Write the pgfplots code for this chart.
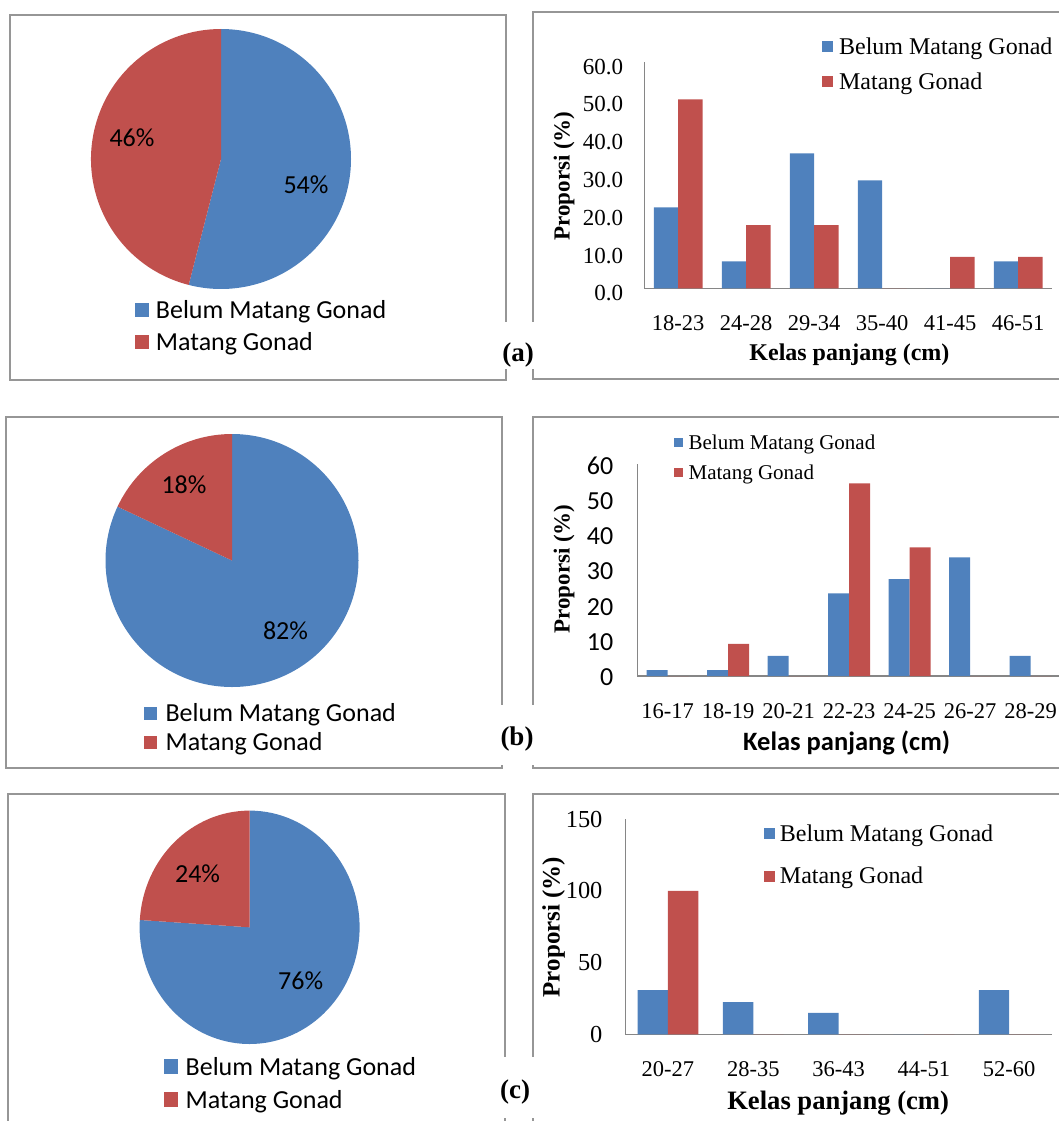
\documentclass[border=0pt]{standalone}
\usepackage{fontspec}
\setmainfont{Liberation Serif}
\newfontfamily\calibri{Carlito}
\usepackage{pgfplots}
\pgfplotsset{compat=1.18}

\definecolor{xlblue}{RGB}{79,129,189}
\definecolor{xlred}{RGB}{192,80,77}
\definecolor{framegray}{RGB}{150,150,150}
\definecolor{axgray}{RGB}{134,134,134}
\newcommand\fs[1]{\fontsize{#1}{#1}\selectfont}

% pie: #1 = share of "Belum Matang Gonad" in percent, #2/#3 = radii (pt)
% slices start at 12 o'clock and run clockwise, as in Excel
\newcommand\pieslices[3]{%
  \fill[xlblue] (0,0) -- (0,1) arc[start angle=90, end angle={90-3.6*#1}, x radius=#2pt, y radius=#3pt] -- cycle;
  \fill[xlred] (0,0) -- ({cos(90-3.6*#1)},{sin(90-3.6*#1)}) arc[start angle={90-3.6*#1}, end angle=-270, x radius=#2pt, y radius=#3pt] -- cycle;
}

\pgfplotsset{
  pieax/.style={hide axis, scale only axis, anchor=center, clip=false,
    xmin=-1, xmax=1, ymin=-1, ymax=1,
    legend cell align=left,
    legend style={draw=none, fill=none, anchor=north west, inner sep=0pt, outer sep=0pt,
      font=\calibri\fs{26}, nodes={inner sep=0pt, text height=19pt, text depth=6pt}}},
  barax/.style={scale only axis, anchor=south west, ybar=0pt,
    axis x line*=bottom, axis y line*=left,
    axis line style={axgray, line width=1.2pt}, major tick style={draw=none},
    ymin=0, xmin=-0.5, enlargelimits=false, clip=false,
    /pgf/number format/assume math mode=true,
    xtick=data,
    x tick label style={font=\fs{22.5}, inner sep=0pt, anchor=center, yshift=-30.5pt},
    y tick label style={inner sep=0pt, anchor=east},
    legend cell align=left,
    legend style={draw=none, fill=none, anchor=north west, inner sep=0pt, outer sep=0pt},
    every axis y label/.style={rotate=90, anchor=center, font=\bfseries\fs{23}},
    every axis x label/.style={anchor=center, font=\bfseries\fs{24}}},
}

\begin{document}
\begin{tikzpicture}[x=1pt, y=-1pt]
\path[use as bounding box] (0,0) rectangle (1058,1121);

% frames
\begin{scope}[framegray, line width=2pt]
  \draw (10,15) rectangle (506,380);
  \draw (533,12) rectangle (1080,379);
  \draw (6,417) rectangle (502,768);
  \draw (533,417) rectangle (1080,768);
  \draw (8,794) rectangle (505,1140);
  \draw (533,794) rectangle (1080,1140);
\end{scope}

%% ---------- (a) ----------
\begin{axis}[pieax, at={(221pt,-159pt)}, width=260pt, height=260pt,
  legend style={at={(axis description cs:0.169,-0.040)}, row sep=7pt, column sep=7pt},
  legend image code/.code={\fill[#1] (0pt,-5pt) rectangle (14pt,9pt);}]
  \addlegendimage{fill=xlblue, draw=none}
  \addlegendentry{Belum Matang Gonad}
  \addlegendimage{fill=xlred, draw=none}
  \addlegendentry{Matang Gonad}
  \pieslices{54}{130}{130}
\end{axis}

\begin{axis}[barax, at={(644.2pt,-288.3pt)}, width=408pt, height=226.6pt,
  xmax=5.5, ymax=60, ytick={0,10,...,60}, bar width=24.3pt,
  xticklabels={18-23,24-28,29-34,35-40,41-45,46-51},
  y tick label style={font=\fs{23}, xshift=-21pt, yshift=-5pt,
    /pgf/number format/fixed, /pgf/number format/fixed zerofill, /pgf/number format/precision=1},
  ylabel={Proporsi (\%)}, xlabel={Kelas panjang (cm)},
  ylabel style={at={(axis description cs:-0.1966,0.4956)}},
  xlabel style={at={(axis description cs:0.503,-0.294)}},
  legend style={at={(axis description cs:0.436,1.106)}, font=\fs{24}, row sep=13pt, column sep=6pt,
    nodes={inner sep=0pt, text height=17pt, text depth=5pt}},
  legend image code/.code={\fill[#1] (0pt,-3.6pt) rectangle (11pt,7.4pt);}]
  \addplot[fill=xlblue, draw=none] coordinates {(0,21.4) (1,7.1) (2,35.7) (3,28.6) (4,0) (5,7.1)};
  \addplot[fill=xlred, draw=none] coordinates {(0,50.0) (1,16.7) (2,16.7) (3,0) (4,8.3) (5,8.3)};
  \legend{Belum Matang Gonad, Matang Gonad}
\end{axis}

%% ---------- (b) ----------
\begin{axis}[pieax, at={(232pt,-560.5pt)}, width=253pt, height=253pt,
  legend style={at={(axis description cs:0.151,-0.061)}, row sep=4pt, column sep=8.5pt},
  legend image code/.code={\fill[#1] (0pt,-5pt) rectangle (13.4pt,8.4pt);}]
  \addlegendimage{fill=xlblue, draw=none}
  \addlegendentry{Belum Matang Gonad}
  \addlegendimage{fill=xlred, draw=none}
  \addlegendentry{Matang Gonad}
  \pieslices{82}{126.5}{126.5}
\end{axis}

\begin{axis}[barax, at={(637.4pt,-676pt)}, width=423.5pt, height=212pt,
  xmax=6.5, ymax=60, ytick={0,10,...,60}, bar width=21pt,
  xticklabels={16-17,18-19,20-21,22-23,24-25,26-27,28-29},
  y tick label style={font=\calibri\fs{26}, xshift=-24pt, yshift=-1.5pt},
  ylabel={Proporsi (\%)}, xlabel={Kelas panjang (cm)},
  ylabel style={at={(axis description cs:-0.1733,0.5047)}},
  xlabel style={at={(axis description cs:0.494,-0.3175)}, font=\calibri\bfseries\fs{26.5}},
  legend style={at={(axis description cs:0.0855,1.140)}, font=\fs{21}, row sep=10pt, column sep=6pt,
    nodes={inner sep=0pt, text height=15pt, text depth=5pt}},
  legend image code/.code={\fill[#1] (0pt,-2.5pt) rectangle (9pt,6.5pt);}]
  \addplot[fill=xlblue, draw=none] coordinates {(0,1.7) (1,1.7) (2,5.7) (3,23.4) (4,27.4) (5,33.6) (6,5.7)};
  \addplot[fill=xlred, draw=none] coordinates {(0,0) (1,9.1) (2,0) (3,54.5) (4,36.4) (5,0) (6,0)};
  \legend{Belum Matang Gonad, Matang Gonad}
\end{axis}

%% ---------- (c) ----------
\begin{axis}[pieax, at={(249.6pt,-927.3pt)}, width=220pt, height=233.4pt,
  legend style={at={(axis description cs:0.110,-0.052)}, row sep=8.3pt, column sep=7.4pt},
  legend image code/.code={\fill[#1] (0pt,-5pt) rectangle (14.5pt,9.5pt);}]
  \addlegendimage{fill=xlblue, draw=none}
  \addlegendentry{Belum Matang Gonad}
  \addlegendimage{fill=xlred, draw=none}
  \addlegendentry{Matang Gonad}
  \pieslices{76}{110}{116.7}
\end{axis}

\begin{axis}[barax, at={(625.3pt,-1034.3pt)}, width=426.5pt, height=215pt,
  xmax=4.5, ymax=150, ytick={0,50,100,150}, bar width=30.4pt,
  xticklabels={20-27,28-35,36-43,44-51,52-60},
  y tick label style={font=\fs{24.4}, xshift=-22.7pt},
  ylabel={Proporsi (\%)}, xlabel={Kelas panjang (cm)},
  ylabel style={at={(axis description cs:-0.168,0.499)}, font=\bfseries\fs{25}},
  xlabel style={at={(axis description cs:0.499,-0.321)}, font=\bfseries\fs{26.6}},
  legend style={at={(axis description cs:0.325,0.977)}, font=\fs{24}, row sep=20.7pt, column sep=5pt,
    nodes={inner sep=0pt, text height=17pt, text depth=5pt}},
  legend image code/.code={\fill[#1] (0pt,-3.6pt) rectangle (11pt,7.4pt);}]
  \addplot[fill=xlblue, draw=none] coordinates {(0,30.8) (1,22.5) (2,15.0) (3,0) (4,30.8)};
  \addplot[fill=xlred, draw=none] coordinates {(0,100) (1,0) (2,0) (3,0) (4,0)};
  \legend{Belum Matang Gonad, Matang Gonad}
\end{axis}

% percentage labels of the pies
\begin{scope}[every node/.style={font=\calibri\fs{26}, inner sep=0pt}]
  \node at (132,138) {46\%};
  \node at (306,185) {54\%};
  \node at (184,485) {18\%};
  \node at (285.5,631) {82\%};
  \node at (197.6,874) {24\%};
  \node at (300.7,980.7) {76\%};
\end{scope}

% panel letters, breaking the frames
\fill[white] (495,322) rectangle (545,369);
\fill[white] (495,705) rectangle (545,765);
\fill[white] (495,1057) rectangle (545,1118);
\begin{scope}[every node/.style={font=\bfseries\fs{27}, inner sep=0pt}]
  \node at (518,355) {(a)};
  \node at (517,739) {(b)};
  \node at (515,1092) {(c)};
\end{scope}
\end{tikzpicture}
\end{document}
